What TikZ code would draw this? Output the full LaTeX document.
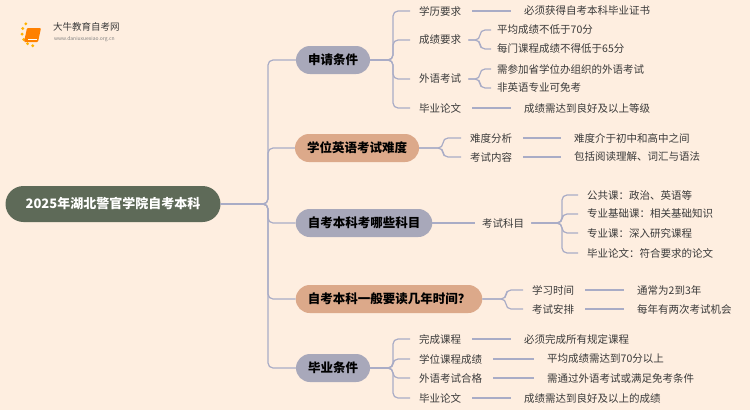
\documentclass[tikz,border=0pt]{standalone}
\usepackage{fontspec}
\setmainfont{Noto Sans CJK SC}
\begin{document}
\begin{tikzpicture}[x=1pt,y=-1pt,
  ln/.style={draw=lineC,line width=1.2pt,rounded corners=5pt},
  txt/.style={anchor=west,text=txtC,font=\fontsize{10.5}{12}\selectfont,inner sep=1pt},
  gbr/.style={fill=grayB,rounded corners=14pt,minimum height=28pt,font=\bfseries\fontsize{12.5}{14}\selectfont,text=black,inner xsep=12pt},
  tbr/.style={gbr,fill=tanB}]
\definecolor{bgC}{HTML}{FEEEE0}
\definecolor{lineC}{HTML}{A9ACC6}
\definecolor{txtC}{HTML}{3A3A3A}
\definecolor{grayB}{HTML}{A8A8BA}
\definecolor{tanB}{HTML}{DCA98A}
\definecolor{rootC}{HTML}{5E6A58}
\fill[bgC] (0,0) rectangle (750,410);
\useasboundingbox (0,0) rectangle (750,410);
% logo
\foreach \a in {100,125,150,175,200,225}{\fill[orange!60!yellow] (35,33)++(\a:13) circle (1.6);}
\fill[orange,rounded corners=1pt] (27,28) -- (41,28) -- (38,42) -- (24,42) -- cycle;
\fill[white] (28,39) rectangle (37,40);
\node[anchor=west,font=\fontsize{9.5}{10}\selectfont,text=txtC,inner sep=0] (logo) at (53,27) {大牛教育自考网};
\node[anchor=west,font=\fontsize{5}{6}\selectfont,text=gray,inner sep=0] (url) at (54,39) {www.daniuxuexiao.org.cn};
% root
\node[fill=rootC,rounded corners=18pt,minimum width=215pt,minimum height=36pt,text=white,font=\bfseries\fontsize{13}{15}\selectfont] (root) at (113,204) {2025年湖北警官学院自考本科};
% branches
\node[gbr] (b1) at (333,60) {申请条件};
\node[tbr] (b2) at (357,148) {学位英语考试难度};
\node[gbr] (b3) at (364,223) {自考本科考哪些科目};
\node[tbr] (b4) at (389,299) {自考本科一般要读几年时间？};
\node[gbr] (b5) at (333,368) {毕业条件};
\foreach \b in {b1,b2,b3,b4,b5}{\draw[ln] (root.east) -- (268,204) |- (\b.west);}
% branch 1
\node[txt] (a1) at (418,11) {学历要求};
\node[txt] (a2) at (418,40) {成绩要求};
\node[txt] (a3) at (418,79) {外语考试};
\node[txt] (a4) at (418,108) {毕业论文};
\foreach \c in {a1,a2,a3,a4}{\draw[ln] (b1.east) -- (393,60) |- ([xshift=-8pt]\c.west);}
\node[txt] (a1l) at (523,11) {必须获得自考本科毕业证书};
\node[txt] (a2l) at (496,30) {平均成绩不低于70分};
\node[txt] (a2m) at (496,49) {每门课程成绩不得低于65分};
\node[txt] (a3l) at (496,69) {需参加省学位办组织的外语考试};
\node[txt] (a3m) at (496,88) {非英语专业可免考};
\node[txt] (a4l) at (523,108) {成绩需达到良好及以上等级};
\draw[ln] ([xshift=10pt]a1.east) -- ([xshift=-12pt]a1l.west);
\draw[ln] ([xshift=10pt]a4.east) -- ([xshift=-12pt]a4l.west);
\foreach \c in {a2l,a2m}{\draw[ln] ([xshift=6pt]a2.east) -- (480,40) |- ([xshift=-5pt]\c.west);}
\foreach \c in {a3l,a3m}{\draw[ln] ([xshift=6pt]a3.east) -- (480,79) |- ([xshift=-5pt]\c.west);}
% branch 2
\node[txt] (c1) at (469,138) {难度分析};
\node[txt] (c2) at (469,157) {考试内容};
\foreach \c in {c1,c2}{\draw[ln] (b2.east) -- (443,148) |- ([xshift=-8pt]\c.west);}
\node[txt] (c1l) at (573,138) {难度介于初中和高中之间};
\node[txt] (c2l) at (573,157) {包括阅读理解、词汇与语法};
\draw[ln] ([xshift=10pt]c1.east) -- ([xshift=-12pt]c1l.west);
\draw[ln] ([xshift=10pt]c2.east) -- ([xshift=-12pt]c2l.west);
% branch 3
\node[txt] (d1) at (481,223) {考试科目};
\draw[ln] (b3.east) -- ([xshift=-6pt]d1.west);
\node[txt] (d1a) at (586,195) {公共课：政治、英语等};
\node[txt] (d1b) at (586,214) {专业基础课：相关基础知识};
\node[txt] (d1c) at (586,233) {专业课：深入研究课程};
\node[txt] (d1d) at (586,253) {毕业论文：符合要求的论文};
\foreach \c in {d1a,d1b,d1c,d1d}{\draw[ln] ([xshift=6pt]d1.east) -- (562,223) |- ([xshift=-8pt]\c.west);}
% branch 4
\node[txt] (e1) at (531,290) {学习时间};
\node[txt] (e2) at (531,309) {考试安排};
\foreach \c in {e1,e2}{\draw[ln] (b4.east) -- (506,299) |- ([xshift=-8pt]\c.west);}
\node[txt] (e1l) at (636,290) {通常为2到3年};
\node[txt] (e2l) at (636,309) {每年有两次考试机会};
\draw[ln] ([xshift=10pt]e1.east) -- ([xshift=-12pt]e1l.west);
\draw[ln] ([xshift=10pt]e2.east) -- ([xshift=-12pt]e2l.west);
% branch 5
\node[txt] (f1) at (418,339) {完成课程};
\node[txt] (f2) at (418,359) {学位课程成绩};
\node[txt] (f3) at (418,378) {外语考试合格};
\node[txt] (f4) at (418,398) {毕业论文};
\foreach \c in {f1,f2,f3,f4}{\draw[ln] (b5.east) -- (393,368) |- ([xshift=-8pt]\c.west);}
\node[txt] (f1l) at (523,339) {必须完成所有规定课程};
\node[txt] (f2l) at (546,359) {平均成绩需达到70分以上};
\node[txt] (f3l) at (546,378) {需通过外语考试或满足免考条件};
\node[txt] (f4l) at (523,398) {成绩需达到良好及以上的成绩};
\foreach \p/\q in {f1/f1l,f2/f2l,f3/f3l,f4/f4l}{\draw[ln] ([xshift=10pt]\p.east) -- ([xshift=-12pt]\q.west);}
\end{tikzpicture}
\end{document}
